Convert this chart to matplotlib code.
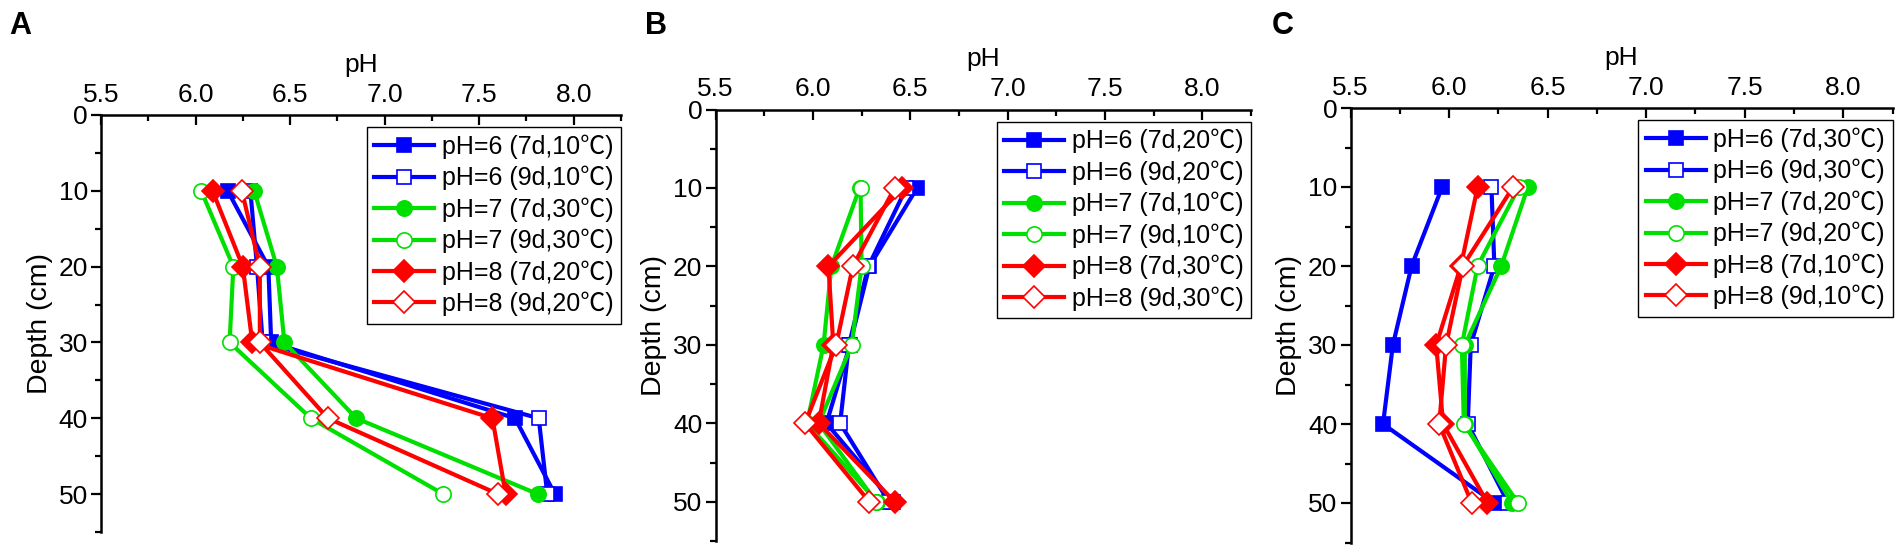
import numpy as np
import matplotlib
matplotlib.use("Agg")
import matplotlib.pyplot as plt
from matplotlib.ticker import MultipleLocator, FormatStrFormatter

plt.rcParams['font.family'] = ['Liberation Sans', 'Noto Sans CJK SC', 'DejaVu Sans']

#%% data (pH)
depth = [10, 20, 30, 40, 50]

a_labels = ['pH=6 (7d,10℃)', 'pH=6 (9d,10℃)', 'pH=7 (7d,30℃)',
            'pH=7 (9d,30℃)', 'pH=8 (7d,20℃)', 'pH=8 (9d,20℃)']
a_ph6_7d = [6.17, 6.385, 6.40, 7.69, 7.90]
a_ph6_9d = [6.29, 6.325, 6.355, 7.815, 7.86]
a_ph7_7d = [6.31, 6.43, 6.47, 6.85, 7.81]
a_ph7_9d = [6.03, 6.20, 6.18, 6.61, 7.31]
a_ph8_7d = [6.09, 6.25, 6.30, 7.57, 7.64]
a_ph8_9d = [6.245, 6.34, 6.34, 6.70, 7.60]

b_labels = ['pH=6 (7d,20℃)', 'pH=6 (9d,20℃)', 'pH=7 (7d,10℃)',
            'pH=7 (9d,10℃)', 'pH=8 (7d,30℃)', 'pH=8 (9d,30℃)']
b_ph6_7d = [6.535, 6.29, 6.19, 6.07, 6.41]
b_ph6_9d = [6.48, 6.285, 6.185, 6.14, 6.39]
b_ph7_7d = [6.24, 6.095, 6.055, 5.97, 6.33]
b_ph7_9d = [6.245, 6.25, 6.20, 6.03, 6.325]
b_ph8_7d = [6.46, 6.08, 6.105, 6.03, 6.42]
b_ph8_9d = [6.42, 6.205, 6.12, 5.96, 6.29]

c_labels = ['pH=6 (7d,30℃)', 'pH=6 (9d,30℃)', 'pH=7 (7d,20℃)',
            'pH=7 (9d,20℃)', 'pH=8 (7d,10℃)', 'pH=8 (9d,10℃)']
c_ph6_7d = [5.965, 5.81, 5.715, 5.665, 6.23]
c_ph6_9d = [6.215, 6.23, 6.11, 6.095, 6.30]
c_ph7_7d = [6.40, 6.265, 6.08, 6.08, 6.32]
c_ph7_9d = [6.355, 6.145, 6.065, 6.075, 6.35]
c_ph8_7d = [6.145, 6.06, 5.935, 5.97, 6.195]
c_ph8_9d = [6.325, 6.07, 5.985, 5.95, 6.115]

#%% styles
BLUE, GREEN, RED = '#0000ff', '#00e000', '#ff0000'
styles = [(BLUE, 's', True), (BLUE, 's', False),
          (GREEN, 'o', True), (GREEN, 'o', False),
          (RED, 'D', True), (RED, 'D', False)]
msize = {'s': 10, 'o': 11, 'D': 11}

W, H = 1904, 554
fig = plt.figure(figsize=(W / 100, H / 100), dpi=100)


def make_axes(left, right, top, bottom):
    return fig.add_axes([left / W, 1 - bottom / H, (right - left) / W, (bottom - top) / H])


def draw_panel(ax, series, labels, letter, letter_x):
    for vals, lab, (col, mk, filled) in zip(series, labels, styles):
        ax.plot(vals, depth, color=col, lw=3.0, marker=mk, ms=msize[mk],
                mfc=col if filled else 'white', mec=col, mew=1.2, label=lab)
    ax.set_xlim(5.5, 8.25)
    ax.set_ylim(55, 0)
    ax.xaxis.set_major_locator(MultipleLocator(0.5))
    ax.xaxis.set_minor_locator(MultipleLocator(0.25))
    ax.yaxis.set_major_locator(MultipleLocator(10))
    ax.yaxis.set_minor_locator(MultipleLocator(5))
    ax.xaxis.tick_top()
    ax.xaxis.set_label_position('top')
    ax.xaxis.set_major_formatter(FormatStrFormatter('%.1f'))
    ax.tick_params(axis='x', which='both', direction='in', labelsize=19, width=1.6, pad=6)
    ax.tick_params(axis='x', which='major', length=7)
    ax.tick_params(axis='x', which='minor', length=4)
    ax.tick_params(axis='y', which='both', direction='out', labelsize=19, width=1.6, pad=2.5)
    ax.tick_params(axis='y', which='major', length=7)
    ax.tick_params(axis='y', which='minor', length=4)
    for s in ['right', 'bottom']:
        ax.spines[s].set_visible(False)
    for s in ['left', 'top']:
        ax.spines[s].set_linewidth(1.8)
    ax.set_xlabel('pH', fontsize=19, labelpad=8)
    ax.set_ylabel('Depth (cm)', fontsize=20.5, labelpad=4)
    axh = ax.get_position().height * H
    leg = ax.legend(loc='upper right', bbox_to_anchor=(1.0, 1 - 12 / axh),
                    borderaxespad=0, fontsize=18, frameon=True, fancybox=False,
                    edgecolor='black', framealpha=1, handlelength=2.4,
                    handletextpad=0.3, borderpad=0.3, labelspacing=0.28)
    leg.get_frame().set_linewidth(1.0)
    fig.text(letter_x / W, 1 - 11 / H, letter, fontsize=22, fontweight='bold',
             ha='left', va='top')


ax_a = make_axes(101, 621, 115, 532)
draw_panel(ax_a, [a_ph6_7d, a_ph6_9d, a_ph7_7d, a_ph7_9d, a_ph8_7d, a_ph8_9d],
           a_labels, 'A', 9)
ax_b = make_axes(715.5, 1251, 109.5, 541)
draw_panel(ax_b, [b_ph6_7d, b_ph6_9d, b_ph7_7d, b_ph7_9d, b_ph8_7d, b_ph8_9d],
           b_labels, 'B', 645)
ax_c = make_axes(1350.5, 1892.5, 108, 542.5)
draw_panel(ax_c, [c_ph6_7d, c_ph6_9d, c_ph7_7d, c_ph7_9d, c_ph8_7d, c_ph8_9d],
           c_labels, 'C', 1272)

fig.savefig('out.png', dpi=100)
